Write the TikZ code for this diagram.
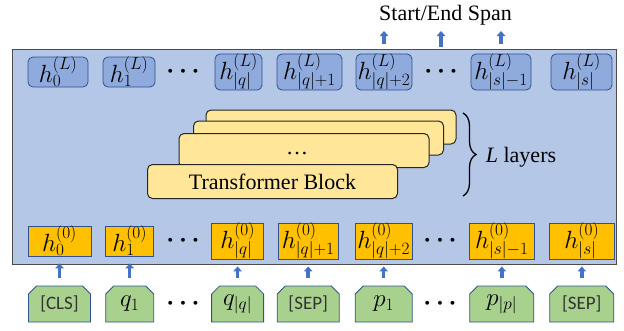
\documentclass[tikz,border=0pt]{standalone}
\usepackage{fontspec}
\setmainfont{Liberation Serif}
\setsansfont{Carlito}
\definecolor{encblue}{RGB}{180,199,231}
\definecolor{stateblue}{RGB}{143,170,220}
\definecolor{edgeblue}{RGB}{47,82,143}
\definecolor{embyellow}{RGB}{255,192,0}
\definecolor{tokgreen}{RGB}{169,209,142}
\definecolor{layeryellow}{RGB}{255,230,153}
\definecolor{arrblue}{RGB}{68,114,196}
\usetikzlibrary{arrows.meta,shapes.misc,decorations.pathreplacing}

\begin{document}
\begin{tikzpicture}[x=1pt,y=-1pt,
  enc/.style={draw=black!70,line width=1.3pt,fill=encblue,minimum width=604pt,minimum height=215pt},
  hlast/.style={draw=edgeblue,line width=0.8pt,fill=stateblue,rounded corners=5pt,
    minimum height=30pt,inner sep=0pt,font=\fontsize{23}{26}\selectfont},
  hfirst/.style={draw=edgeblue,line width=0.8pt,fill=embyellow,
    minimum height=30pt,inner sep=0pt,font=\fontsize{23}{26}\selectfont},
  tok/.style={chamfered rectangle,chamfered rectangle corners={north west,north east},
    chamfered rectangle xsep=4pt,chamfered rectangle ysep=4pt,draw=edgeblue,line width=0.8pt,
    fill=tokgreen,minimum height=36pt,inner sep=0pt,font=\fontsize{24}{26}\selectfont},
  tokname/.style={font=\sffamily\fontsize{19}{22}\selectfont,text=black!80},
  layer/.style={draw=black!85,line width=1pt,fill=layeryellow,rounded corners=5pt,
    minimum width=250pt,minimum height=34pt,font=\rmfamily\fontsize{22}{26}\selectfont},
  dots/.style={minimum height=30pt,inner sep=0pt,font=\fontsize{26}{28}\selectfont\boldmath},
  uparr/.style={-{Triangle[width=8.5pt,length=5pt]},line width=3.5pt,arrblue}
]
  \useasboundingbox (0,0) rectangle (624,330);
  % Encoder
  \node[enc] (enc) at (314.8,156.8) {};
  % Output hidden states
  \node[hlast,minimum width=60pt] (hL1) at (58,72) {$h^{(L)}_{0}$};
  \node[hlast,minimum width=52pt] (hL2) at (129,72) {$h^{(L)}_{1}$};
  \node[dots] (dL1) at (183,72) {$\cdots$};
  \node[hlast,minimum width=47pt] (hL3) at (238.5,72) {$h^{(L)}_{|q|}$};
  \node[hlast,minimum width=65pt] (hL4) at (309.5,72) {$h^{(L)}_{|q|+1}$};
  \node[hlast,minimum width=56pt] (hL5) at (384,72) {$h^{(L)}_{|q|+2}$};
  \node[dots] (dL2) at (441,72) {$\cdots$};
  \node[hlast,minimum width=60pt] (hL6) at (501,72) {$h^{(L)}_{|s|-1}$};
  \node[hlast,minimum width=61pt] (hL7) at (581.5,72) {$h^{(L)}_{|s|}$};
  % Transformer stack
  \node[layer] (lay4) at (331,127) {};
  \node[layer] (lay3) at (318.5,138) {};
  \node[layer] (lay2) at (304,150.5) {};
  \node[font=\rmfamily\fontsize{22}{26}\selectfont] (ldots) at (297,154) {\dots};
  \node[layer] (lay1) at (272.5,181.5) {Transformer Block};
  \draw[decorate,decoration={brace,amplitude=13pt},line width=1.3pt] (463,113) -- (463,196);
  \node[font=\rmfamily\fontsize{22}{26}\selectfont] (nlay) at (521,157) {\textit{L} layers};
  % Input embeddings
  \node[hfirst,minimum width=63pt] (h01) at (59.5,241) {$h^{(0)}_{0}$};
  \node[hfirst,minimum width=48pt] (h02) at (129.7,241) {$h^{(0)}_{1}$};
  \node[dots] (d01) at (183,241) {$\cdots$};
  \node[hfirst,minimum width=52pt] (h03) at (237.6,241) {$h^{(0)}_{|q|}$};
  \node[hfirst,minimum width=60pt] (h04) at (308.2,241) {$h^{(0)}_{|q|+1}$};
  \node[hfirst,minimum width=57pt] (h05) at (383.7,241) {$h^{(0)}_{|q|+2}$};
  \node[dots] (d02) at (440,241) {$\cdots$};
  \node[hfirst,minimum width=65pt] (h06) at (501.8,241) {$h^{(0)}_{|s|-1}$};
  \node[hfirst,minimum width=65pt] (h07) at (581.8,241) {$h^{(0)}_{|s|}$};
  % Input tokens
  \node[tok,tokname,minimum width=62pt] (t1) at (59.5,304) {[CLS]};
  \node[tok,minimum width=48pt] (t2) at (129.7,304) {$q_1$};
  \node[dots] (dt1) at (183,304) {$\cdots$};
  \node[tok,minimum width=52pt] (t3) at (237.6,304) {$q_{|q|}$};
  \node[tok,tokname,minimum width=62pt] (t4) at (308.2,304) {[SEP]};
  \node[tok,minimum width=57pt] (t5) at (383.7,304) {$p_1$};
  \node[dots] (dt2) at (440,304) {$\cdots$};
  \node[tok,minimum width=64pt] (t6) at (501.8,304) {$p_{|p|}$};
  \node[tok,tokname,minimum width=64pt] (t7) at (581.8,304) {[SEP]};
  % Arrows
  \foreach \k in {1,...,7}
    \draw[uparr,shorten <=8pt,shorten >=7pt] (t\k.north) -- (h0\k.south);
  \node[font=\rmfamily\fontsize{22}{26}\selectfont] (span) at (445.5,15) {Start/End Span};
  \coordinate (spanbase) at (0,31);
  \draw[uparr,shorten <=10pt] (hL5.north) -- (hL5.north |- spanbase);
  \draw[uparr,shorten <=10pt] (dL2.north) -- (dL2.north |- spanbase);
  \draw[uparr,shorten <=10pt] (hL6.north) -- (hL6.north |- spanbase);
\end{tikzpicture}
\end{document}
